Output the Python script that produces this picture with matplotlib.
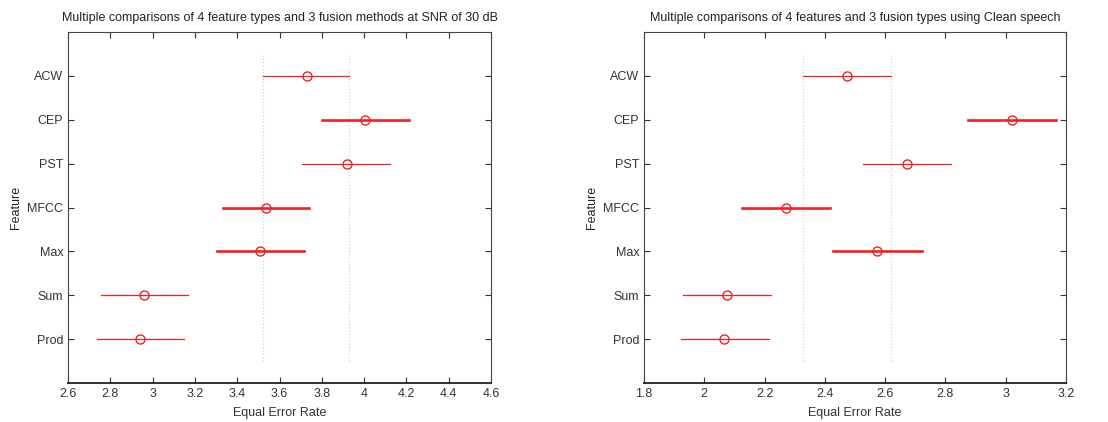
import matplotlib.pyplot as plt

plt.rcParams['font.family'] = ['Liberation Sans', 'DejaVu Sans']

features = ['ACW', 'CEP', 'PST', 'MFCC', 'Max', 'Sum', 'Prod']

# SNR 30 dB: group means and comparison interval ends
snr30_mean = [3.729, 4.004, 3.918, 3.535, 3.508, 2.961, 2.942]
snr30_low = [3.523, 3.799, 3.706, 3.331, 3.304, 2.756, 2.739]
snr30_high = [3.930, 4.212, 4.121, 3.740, 3.716, 3.169, 3.147]

# clean speech
clean_mean = [2.474, 3.022, 2.674, 2.272, 2.573, 2.074, 2.067]
clean_low = [2.328, 2.875, 2.527, 2.126, 2.428, 1.928, 1.922]
clean_high = [2.620, 3.168, 2.820, 2.417, 2.722, 2.222, 2.214]

# groups drawn with the heavier line
thick = ['CEP', 'MFCC', 'Max']

panels = [
    ('Multiple comparisons of 4 feature types and 3 fusion methods at SNR of 30 dB',
     snr30_mean, snr30_low, snr30_high, (2.6, 4.6), [2.6, 2.8, 3, 3.2, 3.4, 3.6, 3.8, 4, 4.2, 4.4, 4.6]),
    ('Multiple comparisons of 4 features and 3 fusion types using Clean speech',
     clean_mean, clean_low, clean_high, (1.8, 3.2), [1.8, 2, 2.2, 2.4, 2.6, 2.8, 3, 3.2]),
]

fig = plt.figure(figsize=(11.08, 4.22), dpi=100)
rects = [[68 / 1108, 39 / 422, 423 / 1108, 351 / 422],
         [644 / 1108, 39 / 422, 422 / 1108, 351 / 422]]

for rect, (title, mean, low, high, xlim, xticks) in zip(rects, panels):
    ax = fig.add_axes(rect)
    n = len(features)
    ypos = [n - i for i in range(n)]

    # dotted reference lines at the first group's interval
    for xv in (low[0], high[0]):
        ax.plot([xv, xv], [0.5, n + 0.5], linestyle=':', color='#d4d4d4', linewidth=0.9)

    for i, name in enumerate(features):
        lw = 1.9 if name in thick else 0.9
        ax.plot([low[i], high[i]], [ypos[i], ypos[i]], color='#ee2222', linewidth=lw)
        ax.plot(mean[i], ypos[i], marker='o', markersize=6.5, markerfacecolor='none',
                markeredgecolor='#ee2222', markeredgewidth=1.0, linestyle='none')

    ax.set_xlim(*xlim)
    ax.set_ylim(0, n + 1)
    ax.set_xticks(xticks)
    ax.set_xticklabels([('%g' % t) for t in xticks])
    ax.set_yticks(ypos)
    ax.set_yticklabels(features)
    ax.tick_params(direction='in', length=4, top=True, right=True, labelsize=9,
                   colors='#333333', width=0.8)
    for s in ax.spines.values():
        s.set_color('#444444')
        s.set_linewidth(0.8)
    ax.spines['bottom'].set_linewidth(1.3)
    ax.spines['bottom'].set_color('#222222')
    ax.set_title(title, fontsize=9, color='#222222', pad=8)
    ax.set_xlabel('Equal Error Rate', fontsize=9, color='#333333', labelpad=5)
    ax.set_ylabel('Feature', fontsize=9, color='#222222', labelpad=4)

plt.savefig('out.png', dpi=100)
